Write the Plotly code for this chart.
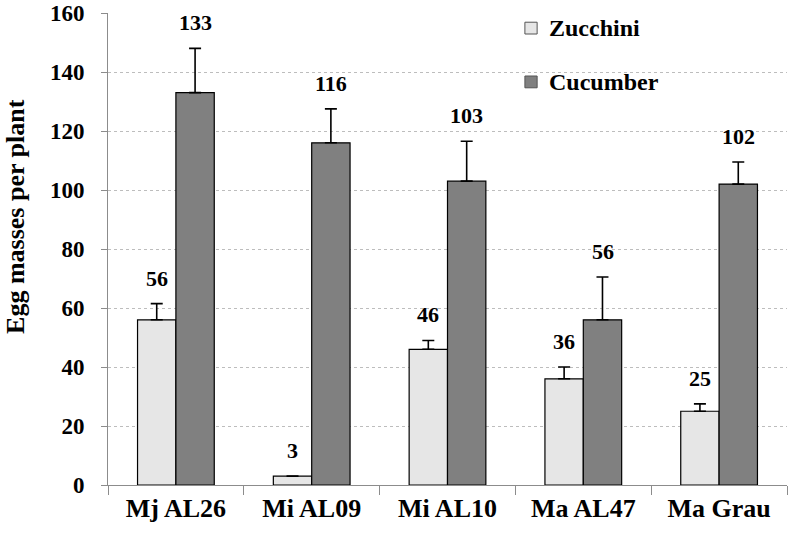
import plotly.graph_objects as go

categories = ["Mj AL26", "Mi AL09", "Mi AL10", "Ma AL47", "Ma Grau"]
series_names = ["Zucchini", "Cucumber"]
series_colors = ["#e6e6e6", "#808080"]
zucchini = [56, 3, 46, 36, 25]
zucchini_err = [5.5, 0, 3, 4, 2.5]
cucumber = [133, 116, 103, 56, 102]
cucumber_err = [15, 11.5, 13.5, 14.5, 7.5]
y_ticks = [0, 20, 40, 60, 80, 100, 120, 140, 160]

FONT = "Liberation Serif"

fig = go.Figure()
for name, color, vals, errs in ((series_names[0], series_colors[0], zucchini, zucchini_err),
                                (series_names[1], series_colors[1], cucumber, cucumber_err)):
    fig.add_trace(go.Bar(
        x=categories, y=vals, name=name, showlegend=False,
        marker=dict(color=color, line=dict(color="#000000", width=1.2)),
        error_y=dict(type="data", symmetric=False, array=errs,
                     arrayminus=[0] * len(vals), color="#000000",
                     thickness=1.6, width=6),
    ))

# value labels above error bars
for i, cat in enumerate(categories):
    for vals, errs, off in ((zucchini, zucchini_err, -0.5), (cucumber, cucumber_err, 0.5)):
        fig.add_annotation(
            x=cat, y=vals[i] + errs[i], text="<b>%d</b>" % vals[i],
            xref="x", yref="y", showarrow=False,
            xshift=off * 38.5, yanchor="bottom", yshift=11,
            font=dict(family=FONT, size=22, color="#000000"),
        )

# legend drawn as squares + text (paper coordinates)
legend_y = [0.968, 0.854]
for name, color, ly in zip(series_names, series_colors, legend_y):
    fig.add_shape(type="rect", xref="paper", yref="paper",
                  x0=0.614, x1=0.632, y0=ly - 0.0125, y1=ly + 0.0125,
                  fillcolor=color, line=dict(color="#555555", width=1))
    fig.add_annotation(x=0.647, y=ly, xref="paper", yref="paper", showarrow=False,
                       xanchor="left", yanchor="middle", text="<b>%s</b>" % name,
                       font=dict(family=FONT, size=24, color="#000000"))

# y-axis title
fig.add_annotation(
    x=-0.1355, y=0.57, xref="paper", yref="paper", showarrow=False,
    xanchor="center", yanchor="middle",
    text="<b>Egg masses per plant</b>", textangle=-90,
    font=dict(family=FONT, size=26, color="#000000"),
)

fig.update_layout(
    width=793, height=540,
    margin=dict(l=108, r=6, t=13, b=55, autoexpand=False),
    paper_bgcolor="white", plot_bgcolor="white",
    barmode="group", bargap=0.435, bargroupgap=0,
    font=dict(family=FONT, color="#000000"),
    showlegend=False,
    xaxis=dict(
        showline=True, linecolor="#8c8c8c", linewidth=1,
        ticks="outside", tickson="boundaries", ticklen=9, tickcolor="#8c8c8c",
        tickfont=dict(family=FONT, size=26, color="#000000"),
        tickvals=categories, ticktext=["<b>%s</b>" % c for c in categories],
        showgrid=False, zeroline=False, automargin=False,
    ),
    yaxis=dict(
        range=[0, 160], tickvals=y_ticks, ticktext=["<b>%d</b>" % v for v in y_ticks],
        showline=True, linecolor="#8c8c8c", linewidth=1,
        ticks="outside", ticklen=6, tickcolor="#8c8c8c", ticklabelstandoff=12,
        tickfont=dict(family=FONT, size=23, color="#000000"),
        showgrid=True, gridcolor="#bdbdbd", gridwidth=1, griddash="dot",
        zeroline=False, automargin=False,
    ),
)

fig.write_html("out.html", config={"displayModeBar": False},
               post_script="document.body.style.margin='0px';")
